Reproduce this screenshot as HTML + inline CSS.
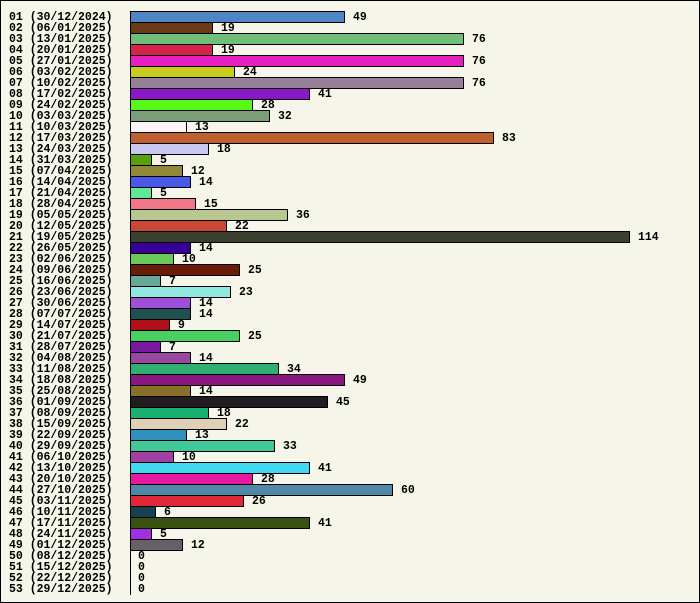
<!DOCTYPE html>
<html><head><meta charset="utf-8"><style>
html,body{margin:0;padding:0}
body{width:700px;height:603px;position:relative;background:#f5f5ea;overflow:hidden;font:bold 11.5px "Liberation Mono",monospace;color:#000}
#frame{position:absolute;left:0;top:0;width:698px;height:601px;border:1px solid #000}
.l{position:absolute;left:9px;line-height:11px;white-space:pre}
.b{position:absolute;left:130px;height:10px;border:1px solid #000;box-sizing:content-box}
.v{position:absolute;line-height:11px}
#ax{position:absolute;left:130px;top:11px;width:1px;height:584px;background:#000}
</style></head><body><div id="frame"></div><div id="ax"></div>
<script>
const d=[
["30/12/2024",49,"#4f86c6"],["06/01/2025",19,"#6b3a17"],["13/01/2025",76,"#6fbf78"],["20/01/2025",19,"#d6234a"],
["27/01/2025",76,"#e620c0"],["03/02/2025",24,"#c8cc1c"],["10/02/2025",76,"#958098"],["17/02/2025",41,"#8a18c8"],
["24/02/2025",28,"#58f818"],["03/03/2025",32,"#7a9e78"],["10/03/2025",13,"#f8f4f8"],["17/03/2025",83,"#c06030"],
["24/03/2025",18,"#c8c8f0"],["31/03/2025",5,"#58a010"],["07/04/2025",12,"#908838"],["14/04/2025",14,"#4858e8"],
["21/04/2025",5,"#60e898"],["28/04/2025",15,"#f07888"],["05/05/2025",36,"#b8c890"],["12/05/2025",22,"#c84838"],
["19/05/2025",114,"#3a4030"],["26/05/2025",14,"#380098"],["02/06/2025",10,"#68c858"],["09/06/2025",25,"#6a1c08"],
["16/06/2025",7,"#68a898"],["23/06/2025",23,"#90e8e0"],["30/06/2025",14,"#a050d8"],["07/07/2025",14,"#205050"],
["14/07/2025",9,"#b01018"],["21/07/2025",25,"#48d060"],["28/07/2025",7,"#7818a0"],["04/08/2025",14,"#9848a0"],
["11/08/2025",34,"#30b070"],["18/08/2025",49,"#881880"],["25/08/2025",14,"#887028"],["01/09/2025",45,"#201c20"],
["08/09/2025",18,"#18b070"],["15/09/2025",22,"#e0d0b8"],["22/09/2025",13,"#3090c0"],["29/09/2025",33,"#40c898"],
["06/10/2025",10,"#a040a0"],["13/10/2025",41,"#40d8f0"],["20/10/2025",28,"#e818a0"],["27/10/2025",60,"#5088a8"],
["03/11/2025",26,"#e02838"],["10/11/2025",6,"#184050"],["17/11/2025",41,"#385010"],["24/11/2025",5,"#a030e0"],
["01/12/2025",12,"#686068"],["08/12/2025",0,""],["15/12/2025",0,""],["22/12/2025",0,""],["29/12/2025",0,""]];
let h="";
d.forEach((r,i)=>{const y=11+i*11;const n=String(i+1).padStart(2,"0");
h+=`<div class="l" style="top:${y+1}px">${n} (${r[0]})</div>`;
const w=Math.round(r[1]*4.39);
if(w>0)h+=`<div class="b" style="top:${y}px;width:${w-2}px;background:${r[2]}"></div>`;
h+=`<div class="v" style="top:${y+1}px;left:${130+w+8}px">${r[1]}</div>`;});
document.body.insertAdjacentHTML("beforeend",h);
</script></body></html>
